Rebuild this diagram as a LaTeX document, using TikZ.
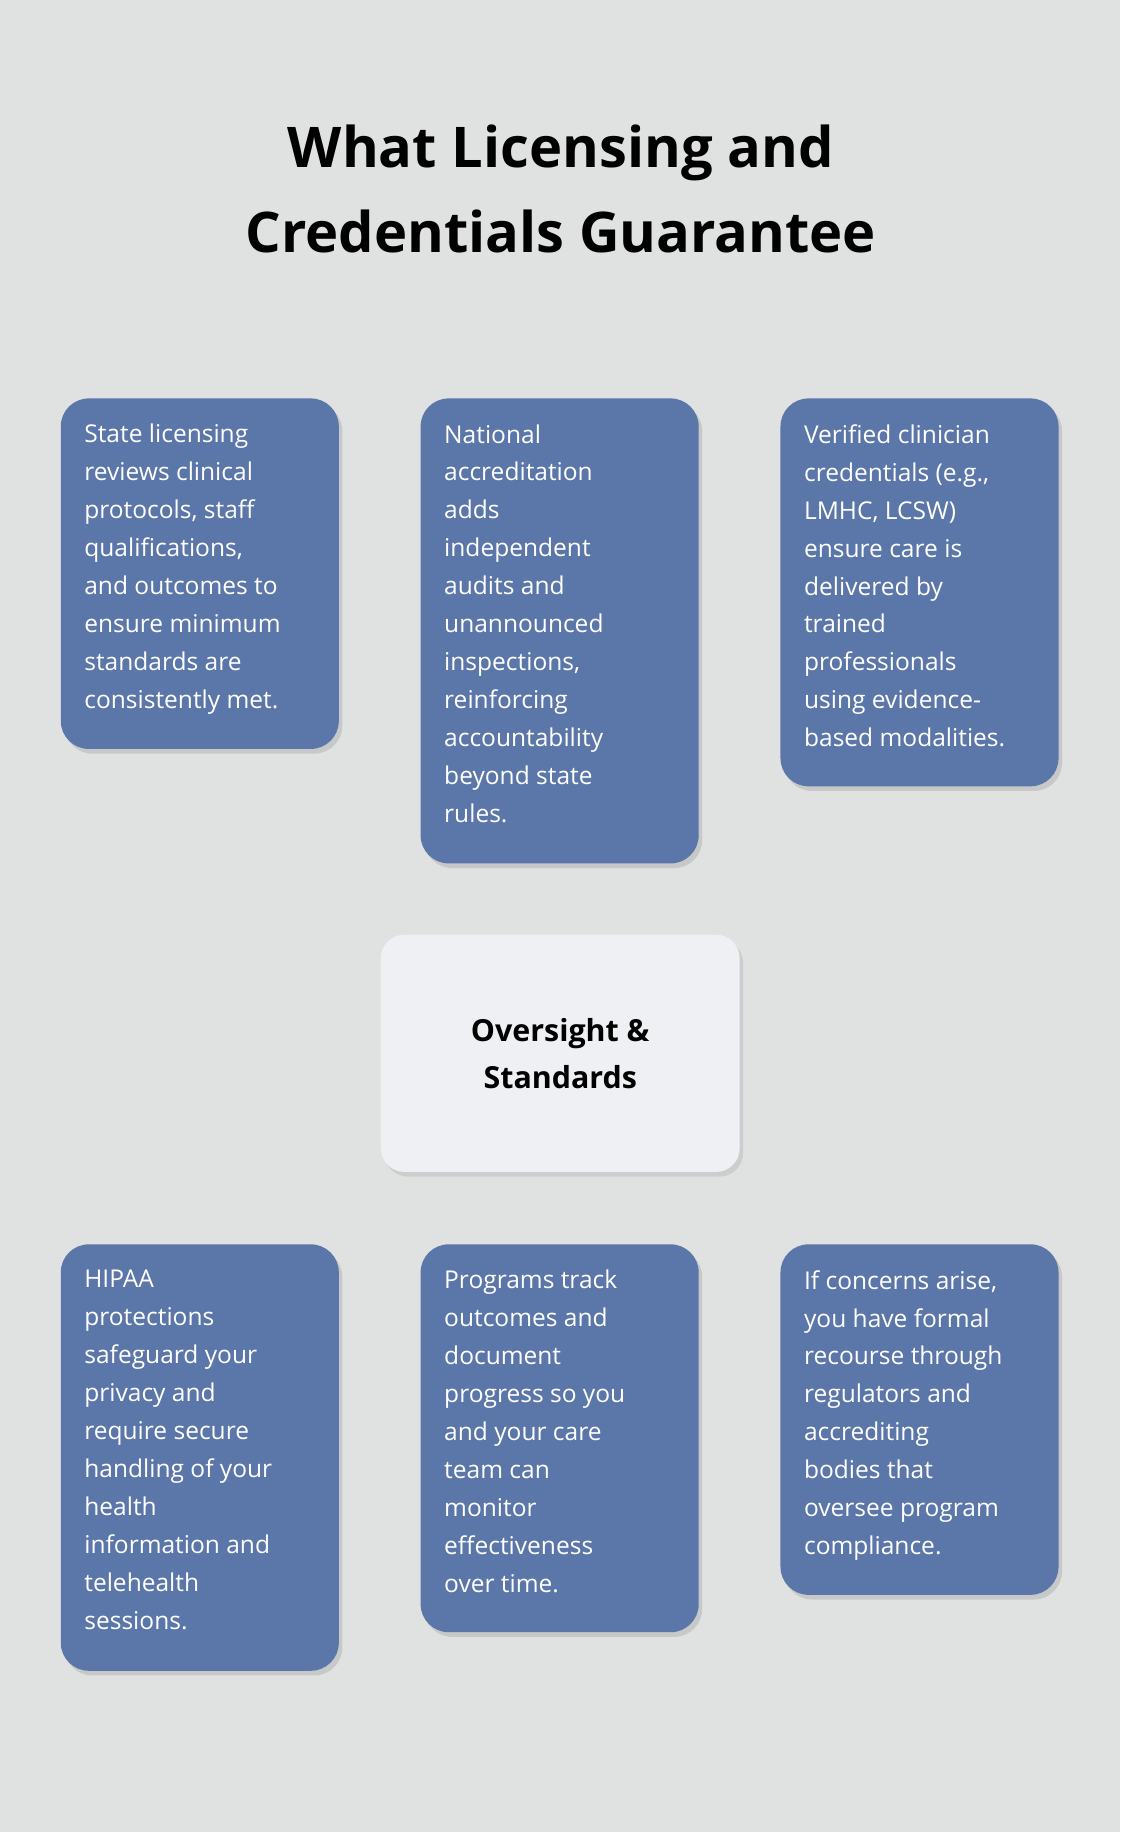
\documentclass[tikz,border=0pt]{standalone}
\usepackage{fontspec}
\setmainfont{Open Sans}
\usetikzlibrary{shadows,backgrounds}
\definecolor{bg}{HTML}{E0E2E2}
\definecolor{boxblue}{HTML}{5B76A8}
\definecolor{centerfill}{HTML}{EEF0F3}
\definecolor{dash}{HTML}{606060}
\begin{document}
\begin{tikzpicture}[x=1pt,y=-1pt,
  box/.style={draw=none,fill=boxblue,rounded corners=24pt,drop shadow={shadow xshift=3pt,shadow yshift=-4pt,opacity=0.25}},
  txt/.style={anchor=north west,align=left,text=white,inner sep=0pt,font=\fontsize{21}{32.5}\selectfont},
  conn/.style={draw=dash,line width=2pt,dash pattern=on 4.5pt off 4.5pt}]
\fill[bg] (0,0) rectangle (959,1568);
\useasboundingbox (0,0) rectangle (959,1568);
\node[font=\fontsize{48}{73}\selectfont\bfseries,align=center] (title) at (480,162) {What Licensing and\\Credentials Guarantee};
% boxes
\path[box] (52,341) rectangle (290,641); \coordinate (b1) at (278,632);
\path[box] (360,341) rectangle (598,739); \coordinate (b2) at (480,743);
\path[box] (668,341) rectangle (906,673); \coordinate (b3) at (668,657);
\path[box] (52,1065) rectangle (290,1430); \coordinate (b4) at (292,1110);
\path[box] (360,1065) rectangle (598,1397); \coordinate (b5) at (480,1060);
\path[box] (668,1065) rectangle (906,1365); \coordinate (b6) at (668,1092);
\node[txt] (t1) at (72,363) {State licensing\\reviews clinical\\protocols, staff\\qualifications,\\and outcomes to\\ensure minimum\\standards are\\consistently met.};
\node[txt] (t2) at (380,363) {National\\accreditation\\adds\\independent\\audits and\\unannounced\\inspections,\\reinforcing\\accountability\\beyond state\\rules.};
\node[txt] (t3) at (688,363) {Verified clinician\\credentials (e.g.,\\LMHC, LCSW)\\ensure care is\\delivered by\\trained\\professionals\\using evidence-\\based modalities.};
\node[txt] (t4) at (72,1087) {HIPAA\\protections\\safeguard your\\privacy and\\require secure\\handling of your\\health\\information and\\telehealth\\sessions.};
\node[txt] (t5) at (380,1087) {Programs track\\outcomes and\\document\\progress so you\\and your care\\team can\\monitor\\effectiveness\\over time.};
\node[txt] (t6) at (688,1087) {If concerns arise,\\you have formal\\recourse through\\regulators and\\accrediting\\bodies that\\oversee program\\compliance.};
% center
\node[fill=centerfill,rounded corners=20pt,minimum width=307pt,minimum height=203pt,inner sep=0pt,
  font=\fontsize{26}{40}\selectfont\bfseries,align=center,
  drop shadow={shadow xshift=3pt,shadow yshift=-4pt,opacity=0.2}] (c) at (479.5,901.5) {Oversight \&\\Standards};
\coordinate (c1) at (403,800); \coordinate (c2) at (480,795); \coordinate (c3) at (558,800);
\coordinate (c4) at (388,1005); \coordinate (c5) at (480,1010); \coordinate (c6) at (580,1005);
\begin{scope}[on background layer]
\fill[bg] (0,0) rectangle (959,1568);
\draw[conn] (c1) -- (b1); \draw[conn] (c2) -- (b2); \draw[conn] (c3) -- (b3);
\draw[conn] (c4) -- (b4); \draw[conn] (c5) -- (b5); \draw[conn] (c6) -- (b6);
\end{scope}
\end{tikzpicture}
\end{document}
